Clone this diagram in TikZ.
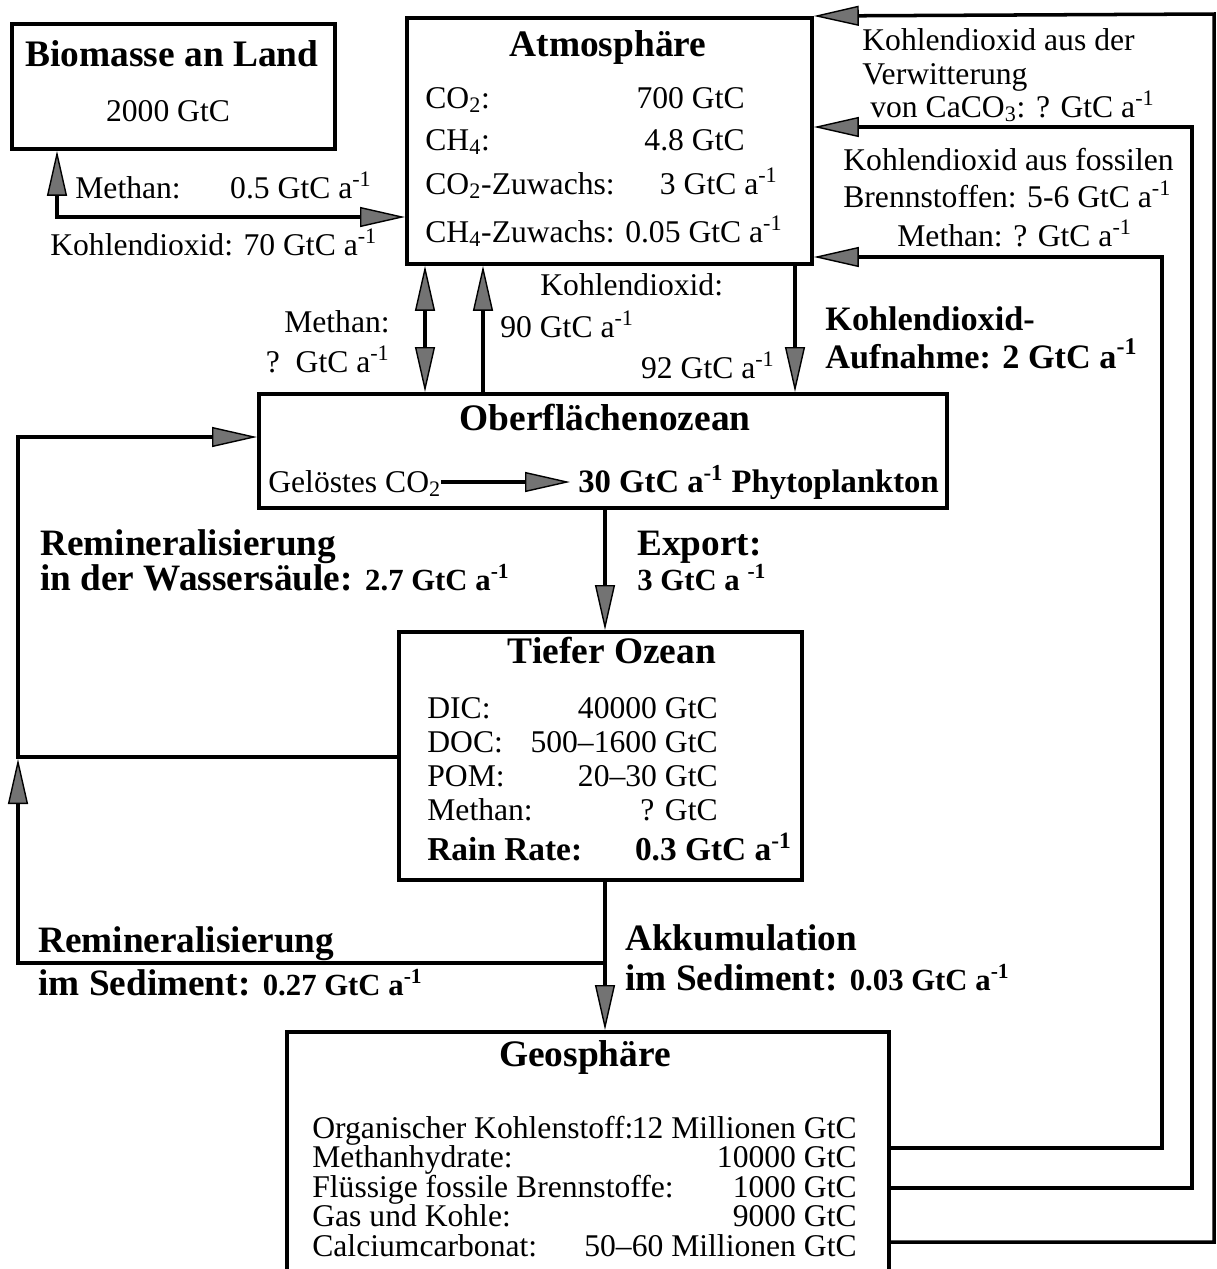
\documentclass[tikz,border=0pt]{standalone}
\usepackage{fontspec}
\setmainfont{Liberation Serif}
\usepackage{tikz}
\usetikzlibrary{arrows.meta}

\newcommand{\pa}{a\textsuperscript{-1}}
\newcommand{\smallbf}[1]{{\fontsize{17.5}{20}\selectfont\bfseries #1}}

\tikzset{
  box/.style={draw, line width=2.2pt, anchor=north west, inner sep=0pt},
  title/.style={font=\fontsize{21.3}{24}\selectfont\bfseries, inner sep=0pt},
  txt/.style={font=\fontsize{18}{21}\selectfont, inner sep=0pt},
  bftxt/.style={font=\fontsize{21.2}{24}\selectfont\bfseries, inner sep=0pt},
  flow/.style={line width=2pt},
  >={Triangle[length=0.9cm, width=0.4cm, fill=black!55, line width=0.8pt]}
}

\begin{document}
\begin{tikzpicture}[x=0.02cm, y=-0.02cm]
\useasboundingbox (0,0) rectangle (1217,1269);

% boxes
\node[box, minimum width=6.46cm, minimum height=2.5cm] (bio) at (10,22) {};
\node[box, minimum width=8.1cm, minimum height=4.92cm] (atm) at (405,16) {};
\node[box, minimum width=13.76cm, minimum height=2.28cm] (surf) at (257,392) {};
\node[box, minimum width=8.06cm, minimum height=4.96cm] (deep) at (397,630) {};
\node[box, minimum width=12.04cm, minimum height=4.9cm] (geo) at (285,1030) {};

% Biomasse an Land
\node[title, anchor=base] (biot) at (172,66) {Biomasse an Land};
\node[txt, anchor=base] (biov) at (168,121) {2000 GtC};

% Atmosphaere
\node[title, anchor=base] (atmt) at (608,56) {Atmosphäre};
\node[txt, anchor=base west] (atmco) at (425,108) {CO\textsubscript{2}:};
\node[txt, anchor=base east] (atmcov) at (745,108) {700 GtC};
\node[txt, anchor=base west] (atmch) at (425,150) {CH\textsubscript{4}:};
\node[txt, anchor=base east] (atmchv) at (745,150) {4.8 GtC};
\node[txt, anchor=base west] (atmcoz) at (425,194) {CO\textsubscript{2}-Zuwachs:};
\node[txt, anchor=base east] (atmcozv) at (778,194) {3 GtC \pa};
\node[txt, anchor=base west] (atmchz) at (425,242) {CH\textsubscript{4}-Zuwachs: 0.05 GtC \pa};

% Oberflaechenozean
\node[title, anchor=base] (surft) at (605,430) {Oberflächenozean};
\node[txt, anchor=base west] (dco) at (268,492) {Gelöstes CO\textsubscript{2}};
\node[txt, anchor=base west, font=\fontsize{18.6}{22}\selectfont\bfseries] (phyto) at (578,492) {30 GtC \pa{} Phytoplankton};

% Tiefer Ozean
\node[title, anchor=base] (deept) at (612,663) {Tiefer Ozean};
\node[txt, anchor=base west] (dic) at (427,718) {DIC:};
\node[txt, anchor=base east] (dicv) at (718,718) {40000 GtC};
\node[txt, anchor=base west] (doc) at (427,752) {DOC:};
\node[txt, anchor=base east] (docv) at (718,752) {500--1600 GtC};
\node[txt, anchor=base west] (pom) at (427,786) {POM:};
\node[txt, anchor=base east] (pomv) at (718,786) {20--30 GtC};
\node[txt, anchor=base west] (meth) at (427,820) {Methan:};
\node[txt, anchor=base east] (methv) at (718,820) {? GtC};
\node[txt, anchor=base west, font=\fontsize{19}{22}\selectfont\bfseries] (rain) at (427,860) {Rain Rate:};
\node[txt, anchor=base east, font=\fontsize{19}{22}\selectfont\bfseries] (rainv) at (792,860) {0.3 GtC \pa};

% Geosphaere
\node[title, anchor=base] (geot) at (585,1066) {Geosphäre};
\node[txt, anchor=base west] (org) at (312,1138) {Organischer Kohlenstoff:};
\node[txt, anchor=base east] (orgv) at (857,1138) {12 Millionen GtC};
\node[txt, anchor=base west] (hyd) at (312,1167.5) {Methanhydrate:};
\node[txt, anchor=base east] (hydv) at (857,1167.5) {10000 GtC};
\node[txt, anchor=base west] (oil) at (312,1197) {Flüssige fossile Brennstoffe:};
\node[txt, anchor=base east] (oilv) at (857,1197) {1000 GtC};
\node[txt, anchor=base west] (coal) at (312,1226.5) {Gas und Kohle:};
\node[txt, anchor=base east] (coalv) at (857,1226.5) {9000 GtC};
\node[txt, anchor=base west] (carb) at (312,1256) {Calciumcarbonat:};
\node[txt, anchor=base east] (carbv) at (857,1256) {50--60 Millionen GtC};

% flows between boxes
\draw[flow, <->] (bio.south -| 57,0) |- (atm.west |- 0,217);
\draw[flow, <->] (atm.south -| 425,0) -- (surf.north -| 425,0);
\draw[flow, ->] (surf.north -| 483,0) -- (atm.south -| 483,0);
\draw[flow, ->] (atm.south -| 795,0) -- (surf.north -| 795,0);
\draw[flow, ->] (surf.south -| 605,0) -- (deep.north -| 605,0);
\draw[flow, ->] (deep.south -| 605,0) -- (geo.north -| 605,0);
\draw[flow, ->] (dco.east |- 0,482) -- ([xshift=-0.16cm]phyto.west |- 0,482);

\coordinate (sed) at (605,963);
\draw[flow, ->] (deep.west |- 0,757) -| (18,437) -- (surf.west |- 0,437);
\draw[flow, ->] (sed) -| (18,759);

\draw[flow, ->] (geo.east |- 0,1148) -| (1162,257) -- (atm.east |- 0,257);
\draw[flow, ->] (geo.east |- 0,1188) -| (1192,127) -- (atm.east |- 0,127);
\draw[flow, ->] (geo.east |- 0,1242) -| (1214,14) -- (atm.north east);

% flow labels
\node[txt, anchor=base west] (lmeth) at (75,198) {Methan:};
\node[txt, anchor=base east] (lmethv) at (372,198) {0.5 GtC \pa};
\node[txt, anchor=base west] (lco) at (50,255) {Kohlendioxid: 70 GtC \pa};

\node[txt, anchor=base east] (smeth) at (390,332) {Methan:};
\node[txt, anchor=base east] (smethv) at (390,372) {?\ \ GtC \pa};
\node[txt, anchor=base west] (sco) at (540,295) {Kohlendioxid:};
\node[txt, anchor=base west] (sco1) at (500,337) {90 GtC \pa};
\node[txt, anchor=base east] (sco2) at (775,378) {92 GtC \pa};
\node[bftxt, anchor=base west, font=\fontsize{19.5}{23}\selectfont\bfseries] (upt) at (825,330) {Kohlendioxid-};
\node[bftxt, anchor=base west, font=\fontsize{19.5}{23}\selectfont\bfseries] (uptv) at (825,368) {Aufnahme: 2 GtC \pa};

\node[txt, anchor=base west] (wet1) at (862,50) {Kohlendioxid aus der};
\node[txt, anchor=base west] (wet2) at (862,84) {Verwitterung};
\node[txt, anchor=base west] (wet3) at (870,117) {von CaCO\textsubscript{3}: ? GtC \pa};
\node[txt, anchor=base west] (fos1) at (843,170) {Kohlendioxid aus fossilen};
\node[txt, anchor=base west] (fos2) at (843,207) {Brennstoffen: 5-6 GtC \pa};
\node[txt, anchor=base west] (gmeth) at (897,246) {Methan: ? GtC \pa};

\node[bftxt, anchor=base west] (exp) at (637,555) {Export:};
\node[txt, anchor=base west] (expv) at (637,590) {\smallbf{3 GtC a \textsuperscript{-1}}};
\node[bftxt, anchor=base west] (rem1) at (40,555) {Remineralisierung};
\node[bftxt, anchor=base west] (rem1v) at (40,590) {in der Wassersäule: \smallbf{2.7 GtC \pa}};
\node[bftxt, anchor=base west] (rem2) at (38,952) {Remineralisierung};
\node[bftxt, anchor=base west] (rem2v) at (38,995) {im Sediment: \smallbf{0.27 GtC \pa}};
\node[bftxt, anchor=base west] (acc) at (625,950) {Akkumulation};
\node[bftxt, anchor=base west] (accv) at (625,990) {im Sediment: \smallbf{0.03 GtC \pa}};
\end{tikzpicture}
\end{document}
